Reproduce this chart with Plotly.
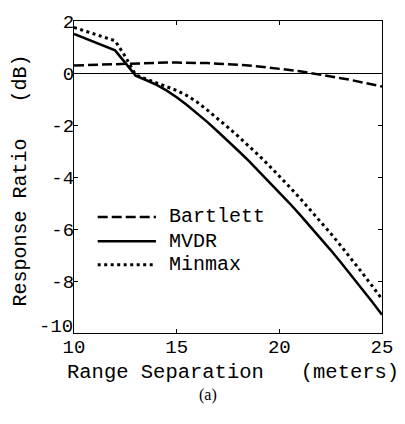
import plotly.graph_objects as go

# Range separation grid (meters)
range_sep = [10, 11, 12, 12.5, 13, 13.5, 14, 14.5, 15, 15.5, 16, 16.5, 17, 17.5,
             18, 18.5, 19, 19.5, 20, 20.5, 21, 21.5, 22, 22.5, 23, 23.5, 24, 24.5, 25]

# Response ratio (dB) for each processor
bartlett = [0.29, 0.32, 0.35, 0.36, 0.38, 0.38, 0.39, 0.40, 0.40, 0.40, 0.39, 0.38, 0.36, 0.34,
            0.32, 0.29, 0.25, 0.21, 0.17, 0.12, 0.07, 0.00, -0.06, -0.13, -0.20, -0.27, -0.35, -0.43, -0.52]
mvdr = [1.50, 1.18, 0.87, 0.39, -0.10, -0.27, -0.45, -0.67, -0.93, -1.23, -1.55, -1.89, -2.25, -2.61,
        -2.99, -3.37, -3.77, -4.17, -4.58, -5.01, -5.45, -5.89, -6.35, -6.81, -7.29, -7.78, -8.27, -8.78, -9.30]
minmax = [1.75, 1.49, 1.24, 0.63, -0.07, -0.23, -0.37, -0.51, -0.67, -0.87, -1.12, -1.43, -1.75, -2.09,
          -2.44, -2.80, -3.17, -3.56, -3.96, -4.38, -4.81, -5.25, -5.70, -6.17, -6.65, -7.14, -7.65, -8.17, -8.70]

x_ticks = [10, 15, 20, 25]
x_tick_labels = ["10", "15", "20", "25"]
y_ticks = [2, 0, -2, -4, -6, -8, -10]
y_tick_labels = ["2", "0", "-2", "-4", "-6", "-8", "-10"]

MONO = "Courier New, Liberation Mono, monospace"
SERIF = "Liberation Serif, Times New Roman, serif"

series = [
    ("Bartlett", bartlett, dict(color="black", width=2.5, dash="10px,4px")),
    ("MVDR", mvdr, dict(color="black", width=2.5, dash="solid")),
    ("Minmax", minmax, dict(color="black", width=3, dash="3px,3.5px")),
]

fig = go.Figure()
for name, vals, style in series:
    fig.add_trace(go.Scatter(x=range_sep, y=vals, mode="lines", name=name,
                             line=style, showlegend=False))

W, H = 405, 424
L, R, T, B = 74, 19, 13, 91
pw, ph = W - L - R, H - T - B


def px(xp):
    return (xp - L) / pw


def py(yp):
    return (H - B - yp) / ph


# Hand-built legend: sample line and label for each series
legend_rows = [214, 239, 263]
shapes = []
annotations = []
for (name, _, style), yrow in zip(series, legend_rows):
    shapes.append(dict(type="line", xref="paper", yref="paper",
                       x0=px(98), x1=px(157), y0=py(yrow), y1=py(yrow),
                       line=style))
    annotations.append(dict(text=name, xref="paper", yref="paper",
                            x=px(168), y=py(yrow), xanchor="left", yanchor="middle",
                            showarrow=False, font=dict(family=MONO, size=20, color="black")))

# The lowest y tick label sits a little above its tick so it clears the x labels
y_labels_shown = y_tick_labels[:-1] + [""]
annotations.append(dict(text=y_tick_labels[-1], xref="paper", yref="y",
                        x=0, y=y_ticks[-1], xanchor="right", yanchor="middle",
                        xshift=1, yshift=6, showarrow=False,
                        font=dict(family=MONO, size=19, color="black")))

nb = "\u00a0"
annotations.append(dict(text=f"Range Separation{nb*3}(meters)", xref="paper", yref="paper",
                        x=px(235), y=py(373), xanchor="center", yanchor="middle",
                        showarrow=False, font=dict(family=MONO, size=20.5, color="black")))
annotations.append(dict(text=f"Response Ratio{nb*3}(dB)", xref="paper", yref="paper",
                        x=px(20), y=py(177), xanchor="center", yanchor="middle", textangle=-90,
                        showarrow=False, font=dict(family=MONO, size=20, color="black")))
annotations.append(dict(text="(a)", xref="paper", yref="paper",
                        x=px(210), y=py(397), xanchor="center", yanchor="middle",
                        showarrow=False, font=dict(family=SERIF, size=16, color="black")))

axis_common = dict(showgrid=False, showline=True, linecolor="black", linewidth=1.2,
                   mirror="ticks", ticks="inside", ticklen=4, tickcolor="black")

fig.update_layout(
    width=W, height=H,
    margin=dict(l=L, r=R, t=T, b=B),
    paper_bgcolor="white", plot_bgcolor="white",
    xaxis=dict(range=[10, 25], tickvals=x_ticks, ticktext=x_tick_labels,
               zeroline=False, ticklabelstandoff=-4,
               tickfont=dict(family=MONO, size=19, color="black"), **axis_common),
    yaxis=dict(range=[-10, 2], tickvals=y_ticks, ticktext=y_labels_shown,
               zeroline=True, zerolinecolor="black", zerolinewidth=1,
               ticklabelstandoff=-5,
               tickfont=dict(family=MONO, size=19, color="black"), **axis_common),
    shapes=shapes,
    annotations=annotations,
)

fig.write_html("out.html")
